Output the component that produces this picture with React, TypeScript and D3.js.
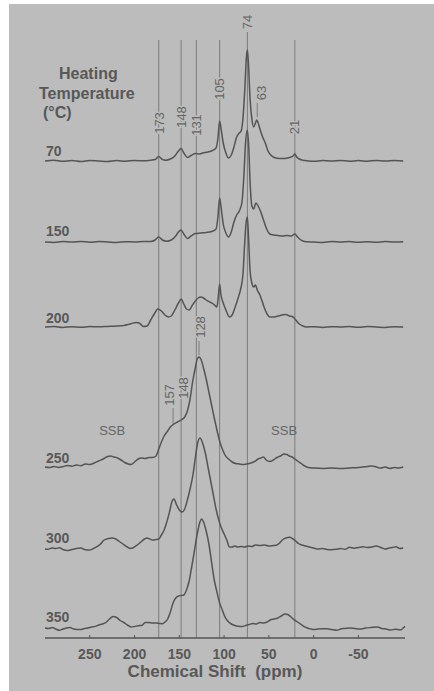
import React from "react";
import * as d3 from "d3";

// ---- data ----
const temperatures = ["70", "150", "200", "250", "300", "350"];
// vertical stacking offset of each spectrum (intensity units)
const offsets = [467, 386, 301, 161, 79, 0];

const trace70: [number, number][] = [[300,0],[290,0.8],[280,-0.3],[270,0.5],[260,-0.5],[250,0.6],[240,0],[230,-0.6],[220,0.4],[210,-0.2],[200,0.5],[190,0.2],[182,0.8],[177,1.5],[173,4.5],[169,1.5],[165,0.8],[160,2],[155,5],[151,10],[148,12.5],[145,8],[141,3.5],[137,5.5],[132,7.5],[128,7],[124,8],[118,9],[113,10.5],[109,13],[107,22],[105,40],[103,30],[101,18],[98,8],[95,3],[92,6],[89,14],[86,24],[83,28],[81,30],[79,42],[77,70],[75,105],[74,111],[73,100],[71,62],[69,42],[67,34],[65,38],[63.5,41],[62,38],[60,32],[57,24],[54,18],[51,10],[48,6],[44,3.5],[38,2.5],[32,2.5],[27,3.5],[23,5],[21,7],[19,4],[16,2],[12,0.8],[8,0.3],[0,-0.3],[-10,0.5],[-20,0],[-30,0.6],[-40,-0.3],[-50,0.4],[-60,-0.2],[-70,0.5],[-80,0],[-90,0.4],[-100,0]];

const trace150: [number, number][] = [[300,0],[290,-0.4],[280,0.5],[270,0],[260,0.6],[250,-0.3],[240,0.4],[230,0],[220,-0.5],[210,0.3],[200,0],[190,0.5],[182,0.5],[177,2],[173,5],[169,2],[164,0.8],[159,2],[154,6],[151,10],[148,12],[145,8],[141,3.5],[137,6],[132,8.5],[126,9],[120,9.5],[114,10.5],[109,13],[107,24],[105,44],[103,32],[101,18],[98,9],[95,5],[92,10],[89,20],[86,27],[83,31],[80,40],[78,65],[76,100],[74,112],[72.5,95],[71,60],[69,36],[67,33],[64.5,39],[62,36],[59,30],[56,22],[52,12],[49,8],[45,7],[40,6.5],[35,6],[30,6.5],[25,6],[21,8],[18,5],[15,2.5],[12,1],[8,0.3],[0,0],[-10,-0.4],[-20,0.4],[-30,0],[-40,0.5],[-50,-0.3],[-60,0.3],[-70,-0.2],[-80,0.4],[-90,0],[-100,0.2]];

const trace200: [number, number][] = [[300,0],[290,0.5],[280,-0.5],[270,0.3],[260,-0.3],[250,0.4],[240,0.2],[230,0.6],[220,1],[212,1.5],[205,3],[198,4.5],[194,3.5],[190,0.5],[186,1],[182,7],[178,13],[174,18],[170,16],[166,12],[162,10],[159,11],[155,17],[151,24],[148,28],[145,23],[142,18],[139,17],[136,21],[133,25],[129,29],[126,30],[123,29],[120,27],[116,25],[112,23],[108,20],[106.5,30],[105,43],[103.5,32],[101,24],[98,17],[94,10],[91,12],[88,19],[84,30],[81,40],[79,52],[77,84],[75.5,104],[74,110],[72.5,85],[71,56],[69,44],[67,40],[65,42],[63,37],[60,32],[58,27],[55,19],[52,13],[49,10],[45,10],[40,11],[35,12],[31,12.5],[27,11],[23,10],[20,7],[16,3],[12,1],[8,0],[0,0.3],[-10,-0.4],[-20,0.3],[-30,0],[-40,0.5],[-50,-0.3],[-60,0.4],[-70,0],[-80,-0.4],[-90,0.3],[-100,0]];

const trace250: [number, number][] = [[300,0],[295,-0.5],[290,0.6],[285,-0.4],[280,0.3],[275,1.5],[270,0.8],[265,2],[260,1.2],[255,3],[250,2.5],[245,4],[240,6],[235,8],[230,10.5],[227,11],[223,10],[219,9],[215,7],[211,4.5],[207,3],[204,2.5],[200,5],[196,8],[192,9],[188,8.5],[184,9.5],[180,9.5],[176,11],[173,18],[170,25],[167,31],[163,36],[160,40],[156,43],[152,45],[148,47],[144,50],[141,56],[138,68],[135,86],[132,100],[130,108],[128,110],[126,108],[123,99],[120,88],[117,75],[114,62],[111,49],[108,37],[105,26],[102,18],[99,12],[95,8],[91,5],[87,3.5],[83,3],[79,2.5],[75,3],[70,4],[66,5.5],[62,8],[59,9],[56,10],[53,7],[49,5.5],[45,7],[41,9.5],[37,11],[33,13],[30,12.5],[27,11],[24,10],[21,8],[18,6],[14,3.5],[10,1],[6,-0.5],[0,-1],[-10,-1.5],[-20,-1],[-30,-1.5],[-40,-1],[-50,-0.5],[-60,0.5],[-65,1],[-70,0],[-75,-1],[-80,0],[-85,-1.5],[-90,-0.5],[-95,-1],[-100,0]];

const trace300: [number, number][] = [[300,0],[297,-0.3],[292,1],[288,0.5],[284,1.2],[280,-0.5],[275,-1.5],[270,-0.5],[265,0.5],[260,1],[255,-0.8],[250,-1],[246,0.5],[242,2.3],[238,5],[234,9],[229,10.5],[225,11],[221,10],[217,7.5],[213,5],[209,2.5],[205,0.5],[201,1.5],[197,4],[193,7],[189,10],[186,11],[183,10],[180,9],[176,9.5],[173,10],[170,14],[167,19],[164,27],[161,37],[158,48],[156,50],[153,44],[150,39],[147,37],[144,40],[141,49],[138,60],[135,73],[132,92],[130,104],[127,111],[124,106],[121,96],[118,82],[115,68],[112,54],[109,40],[106,29],[103,21],[100,15],[97,9],[94,2],[91,2],[88,3],[85,2],[81,2.5],[77,2],[73,3],[69,2.5],[65,4],[60,3.5],[55,4],[50,3],[45,3.5],[41,4],[38,6],[35,9],[31,11],[27,11.7],[23,10],[20,8],[17,5.5],[13,4],[9,3],[5,2],[0,1],[-5,0],[-10,0.5],[-15,-0.5],[-20,-0.7],[-25,-0.3],[-30,0.5],[-35,-0.3],[-40,1.7],[-45,0.8],[-50,1.5],[-55,2.3],[-60,1.5],[-65,2],[-70,3],[-75,1.5],[-80,0],[-84,1],[-88,1.5],[-92,2.3],[-96,0.5],[-100,1]];

const trace350: [number, number][] = [[300,0],[296,-0.5],[292,0.5],[288,-1],[284,-2.3],[280,-1],[276,0],[272,0.5],[268,-1],[264,-1.5],[260,-1.6],[256,-0.5],[252,0],[248,1],[244,1.6],[240,3],[236,4],[232,5.5],[228,9],[224,11.6],[220,10.5],[216,7.5],[212,5.5],[208,3],[204,1],[200,1.5],[196,2.3],[192,2.5],[188,5.5],[184,5.5],[180,5],[176,5],[172,4.5],[169,4.3],[166,6],[163,9],[160,16],[157,25],[154,30],[151,32],[148,32.5],[145,33],[142,38],[139,47],[136,62],[133,78],[130,94],[127,106],[125,109],[123,106],[120,97],[117,84],[114,66],[111,48],[108,36],[105,25],[102,18],[99,11],[96,7],[92,4],[88,2.5],[84,1.8],[80,1.6],[76,2.5],[72,3.5],[68,4.5],[64,4],[60,5.6],[56,5],[52,6],[48,8.3],[44,9],[40,10],[36,12],[32,14],[29,13.5],[26,11.5],[22,8.3],[18,6],[14,3.5],[11,1.6],[7,0],[3,-1],[0,-1.6],[-5,-1],[-10,-0.7],[-15,-0.7],[-20,-1.5],[-26,-2.3],[-30,-1],[-35,-0.5],[-41,0],[-46,-0.5],[-52,-1],[-58,0],[-64,0.5],[-71,1],[-76,-0.5],[-81,-1],[-86,-2],[-91,-1.2],[-97,-2],[-100,0],[-102,1.6]];

const traces = [trace70, trace150, trace200, trace250, trace300, trace350];

const refLines = [173, 148, 131, 105, 74, 21];
const topLabels = ["173", "148", "131", "105", "74", "63", "21"];
const topLabelPpm = [173, 148, 131, 105, 74, 63, 21];
const lowLabels = ["157", "148", "128"];
const lowLabelPpm = [157, 148, 128];
const xTicks = [250, 200, 150, 100, 50, 0, -50];
const ssbLabels = ["SSB", "SSB"];
const ssbPpm = [225, 33];

// ---- style ----
const BG = "#bcbcbc";
const TRACE = "#545454";
const LINE = "#7c7c7c";
const TEXT = "#585858";
const LIGHT_TEXT = "#656565";
const FONT = "'Liberation Sans', Arial, Helvetica, sans-serif";

export default function App() {
  const W = 434, H = 691;
  const x = d3.scaleLinear().domain([300, -102]).range([45, 405]);
  const y = d3.scaleLinear().domain([0, 600]).range([628, 28]);
  const axisY = 638;

  const line = (off: number) =>
    d3
      .line<[number, number]>()
      .x((d) => x(d[0]))
      .y((d) => y(off + d[1]))
      .curve(d3.curveMonotoneX);

  // layout of annotation labels (center y of rotated text)
  const topLabelY = [123, 117, 125, 89, 22, 93, 127];
  const topLabelDx = [1, 0, 0, 0, 0, 4, 0];
  const lowLabelY = [395, 388, 327];
  const lowLabelDx = [-4, 2, 1];
  const traceLabelY = [156, 236, 323, 463, 543, 622];

  const ticks = xTicks.map((t) => x(t));

  return (
    <svg
      width={W}
      height={H}
      style={{ position: "absolute", left: 0, top: 0, background: "#fff" }}
      fontFamily={FONT}
    >
      <rect x={9} y={4} width={W - 9} height={H - 4} fill={BG} />

      {/* reference lines */}
      {refLines.map((p) => (
        <line
          key={p}
          x1={x(p)}
          x2={x(p)}
          y1={p === 74 ? 32 : 40}
          y2={axisY}
          stroke={LINE}
          strokeWidth={1}
        />
      ))}
      {/* leader lines */}
      <line x1={x(63)} x2={x(63)} y1={103} y2={117} stroke={LINE} strokeWidth={1} />
      <line x1={x(128)} x2={x(128)} y1={341} y2={355} stroke={LINE} strokeWidth={1} />
      <line x1={x(157)} x2={x(157)} y1={408} y2={424} stroke={LINE} strokeWidth={1} />

      {/* peak labels */}
      {topLabels.map((t, i) => (
        <text
          key={"t" + i}
          transform={`translate(${x(topLabelPpm[i]) + topLabelDx[i]},${topLabelY[i]}) rotate(-90)`}
          textAnchor="middle"
          dominantBaseline="central"
          fontSize={13}
          fill={LIGHT_TEXT}
          stroke={BG}
          strokeWidth={3}
          paintOrder="stroke"
        >
          {t}
        </text>
      ))}
      {lowLabels.map((t, i) => (
        <text
          key={"l" + i}
          transform={`translate(${x(lowLabelPpm[i]) + lowLabelDx[i]},${lowLabelY[i]}) rotate(-90)`}
          textAnchor="middle"
          dominantBaseline="central"
          fontSize={13}
          fill={LIGHT_TEXT}
          stroke={BG}
          strokeWidth={3}
          paintOrder="stroke"
        >
          {t}
        </text>
      ))}
      {ssbLabels.map((t, i) => (
        <text
          key={"s" + i}
          x={x(ssbPpm[i])}
          y={435}
          textAnchor="middle"
          fontSize={13}
          fill={LIGHT_TEXT}
        >
          {t}
        </text>
      ))}

      {/* spectra */}
      {traces.map((tr, i) => (
        <path
          key={"p" + i}
          d={line(offsets[i])(tr) || ""}
          fill="none"
          stroke={TRACE}
          strokeWidth={1.5}
          strokeLinejoin="round"
        />
      ))}

      {/* trace labels */}
      {temperatures.map((t, i) => (
        <text
          key={"tl" + i}
          x={46}
          y={traceLabelY[i]}
          fontSize={14}
          fontWeight="bold"
          fill={TEXT}
        >
          {t}
        </text>
      ))}

      {/* legend title */}
      <text fontSize={16} fontWeight="bold" fill={TEXT}>
        <tspan x={59} y={79}>Heating</tspan>
        <tspan x={39} y={99}>Temperature</tspan>
        <tspan x={43} y={118}>(°C)</tspan>
      </text>

      {/* x axis */}
      <line x1={x(300)} x2={x(-102)} y1={axisY} y2={axisY} stroke={TRACE} strokeWidth={1.5} />
      {ticks.map((tx, i) => (
        <line key={"tk" + i} x1={tx} x2={tx} y1={axisY} y2={axisY - 3} stroke={TRACE} strokeWidth={1} />
      ))}
      {xTicks.map((t, i) => (
        <text
          key={"xt" + i}
          x={ticks[i]}
          y={659}
          textAnchor="middle"
          fontSize={14}
          fontWeight="bold"
          fill={TEXT}
        >
          {t}
        </text>
      ))}
      <text x={215} y={677} textAnchor="middle" fontSize={17} fontWeight="bold" fill={TEXT}>
        Chemical Shift{"\u00a0\u00a0"}(ppm)
      </text>
    </svg>
  );
}
